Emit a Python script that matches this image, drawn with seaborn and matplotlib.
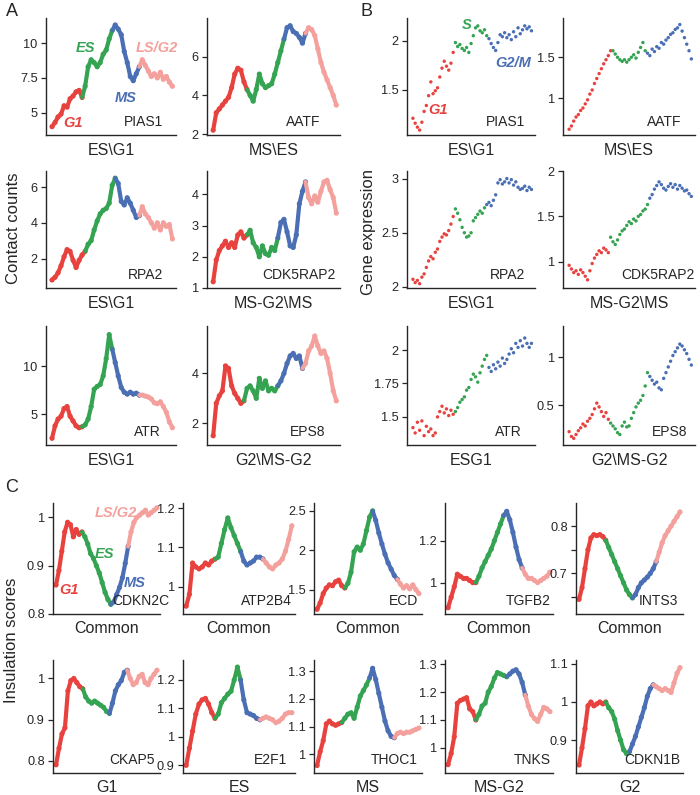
"""
Cell-cycle profiles of contact counts (A), gene expression (B) and
insulation scores (C) for selected genes, coloured by phase.
Saves out.png (700x795).
"""

import numpy as np
import pandas as pd
import matplotlib
matplotlib.use("Agg")
import matplotlib.pyplot as plt
import seaborn as sns

# ---- phase colours ----
PHASES_4 = ["G1", "ES", "MS", "LS/G2"]
PHASES_3 = ["G1", "S", "G2/M"]
RED, GREEN, BLUE, PINK = "#e8423f", "#34a352", "#4a6fb5", "#f4a19d"
COLORS_4 = {"G1": RED, "ES": GREEN, "MS": BLUE, "LS/G2": PINK}
COLORS_3 = {"G1": RED, "S": GREEN, "G2/M": BLUE}

# ---- A: contact counts (values along the cell-cycle trajectory) ----
pias1_contacts = [4.0, 4.3, 4.7, 4.9, 5.5, 5.4, 6.0, 6.2, 6.5, 6.6, 6.1,
                  6.9, 8.3, 8.8, 8.6, 8.3, 8.6, 9.2, 9.5, 10.3, 10.9,
                  11.3, 11.0, 10.6, 9.4, 8.6, 7.6, 7.3, 7.8, 8.3,
                  8.8, 8.4, 8.0, 7.6, 7.8, 7.5, 7.9, 7.4, 7.6, 7.2, 6.9]
pias1_contacts_n = [11, 10, 9, 11]
aatf_contacts = [2.2, 3.1, 3.3, 3.5, 3.7, 3.9, 4.4, 5.1, 5.4, 5.3, 4.7, 4.3,
                 4.0, 3.7, 4.3, 5.1, 4.6, 4.4, 4.5, 4.6, 5.1, 5.7, 6.3, 6.9,
                 7.5, 7.6, 7.3, 7.2, 7.0, 6.7, 7.2,
                 7.5, 7.4, 7.1, 6.4, 5.7, 5.2, 4.8, 4.4, 4.0, 3.5]
aatf_contacts_n = [12, 12, 7, 10]
rpa2_contacts = [0.8, 0.95, 1.2, 1.6, 2.1, 2.5, 2.4, 1.9, 1.5, 1.9, 2.2, 2.4,
                 2.8, 3.0, 3.6, 4.1, 4.5, 4.7, 4.8, 5.1, 6.1, 6.5,
                 6.2, 5.2, 5.0, 5.4, 5.1, 4.7, 4.3, 4.4,
                 4.9, 4.5, 4.3, 4.0, 3.7, 4.0, 3.6, 4.0, 3.8, 3.9, 3.1]
rpa2_contacts_n = [12, 10, 8, 11]
cdk5rap2_contacts = [1.2, 1.9, 2.2, 2.35, 2.5, 2.3, 2.45, 2.3, 2.7, 2.8, 2.6, 2.7,
                     2.85, 2.45, 2.3, 2.0, 2.35, 2.1, 2.05, 2.3, 2.2, 2.6,
                     3.1, 3.2, 2.8, 2.35, 2.3, 2.7, 3.7, 4.1, 4.4,
                     3.9, 3.7, 3.95, 3.75, 4.1, 4.4, 4.45, 4.15, 3.9, 3.4]
cdk5rap2_contacts_n = [12, 10, 9, 10]
atr_contacts = [2.5, 3.8, 4.5, 4.8, 5.6, 5.8, 4.8, 4.3, 3.8, 3.6, 3.7,
                3.9, 4.5, 5.8, 7.6, 7.9, 8.1, 9.0, 10.8, 13.3, 11.8,
                10.4, 9.0, 7.8, 7.3, 7.1, 7.3, 7.1, 7.2, 7.0,
                7.0, 6.9, 6.8, 6.6, 6.2, 6.1, 6.3, 5.8, 5.2, 4.2, 3.6]
atr_contacts_n = [11, 10, 9, 11]
eps8_contacts = [1.5, 2.8, 3.1, 3.3, 4.3, 4.2, 3.5, 3.2, 3.0, 2.8, 2.9,
                 3.4, 3.5, 3.3, 3.0, 3.8, 3.4, 3.7, 3.3, 3.4, 3.3, 3.5,
                 3.7, 4.0, 4.4, 4.7, 4.8, 4.6, 4.7, 4.2,
                 4.4, 4.9, 5.1, 5.5, 5.1, 4.8, 4.9, 4.6, 4.0, 3.3, 2.9]
eps8_contacts_n = [11, 11, 8, 11]

# ---- B: gene expression (single cells ordered along the cycle) ----
pias1_expr = [1.21, 1.16, 1.12, 1.09, 1.17, 1.28, 1.34, 1.44, 1.58, 1.46, 1.49, 1.52,
              1.63, 1.72, 1.79, 1.74, 1.70, 1.77, 1.88,
              1.98, 1.94, 1.96, 1.92, 1.90, 1.93, 1.88, 1.97, 2.05, 2.13, 2.15, 2.10,
              2.08, 2.11, 2.05,
              2.02, 1.97, 1.93, 1.90, 1.98, 2.06, 2.04, 2.08, 2.03, 2.06, 2.01, 2.09,
              2.04, 2.13, 2.07, 2.11, 2.15, 2.12, 2.14, 2.10]
pias1_expr_n = [19, 15, 20]
aatf_expr = [0.62, 0.66, 0.72, 0.77, 0.80, 0.85, 0.88, 0.93, 0.98, 1.05, 1.10, 1.18,
             1.24, 1.30, 1.36, 1.42, 1.47, 1.52, 1.58,
             1.58, 1.54, 1.50, 1.47, 1.45, 1.47, 1.44, 1.47, 1.50, 1.53, 1.49, 1.56,
             1.62, 1.68, 1.58,
             1.55, 1.52, 1.60, 1.57, 1.63, 1.61, 1.68, 1.66, 1.71, 1.74, 1.78, 1.80,
             1.84, 1.86, 1.90, 1.82, 1.74, 1.66, 1.58, 1.48]
aatf_expr_n = [19, 15, 20]
rpa2_expr = [2.07, 2.04, 2.06, 2.03, 2.09, 2.12, 2.18, 2.24, 2.28, 2.26, 2.32, 2.35,
             2.42, 2.46, 2.49, 2.48, 2.52, 2.58, 2.65,
             2.72, 2.68, 2.62, 2.55, 2.50, 2.46, 2.47, 2.50, 2.61, 2.64, 2.67, 2.70,
             2.68, 2.73,
             2.76, 2.78, 2.75, 2.80, 2.85, 2.96, 2.99, 2.95, 2.97, 3.00, 2.96, 2.99,
             2.94, 2.97, 2.92, 2.90, 2.91, 2.93, 2.89, 2.92, 2.90]
rpa2_expr_n = [19, 14, 21]
cdk5rap2_expr = [0.96, 0.92, 0.88, 0.90, 0.86, 0.91, 0.88, 0.84, 0.80, 0.90, 0.98, 1.04,
                 1.08, 1.12, 1.10, 1.15, 1.13, 1.10,
                 1.27, 1.22, 1.19, 1.24, 1.30, 1.34, 1.36, 1.40, 1.44, 1.42, 1.47, 1.45,
                 1.50, 1.52, 1.56, 1.58, 1.63,
                 1.70, 1.74, 1.80, 1.84, 1.88, 1.85, 1.81, 1.79, 1.83, 1.86, 1.82, 1.85,
                 1.80, 1.84, 1.81, 1.78, 1.79, 1.75, 1.72]
cdk5rap2_expr_n = [18, 17, 19]
atr_expr = [1.42, 1.38, 1.46, 1.40, 1.47, 1.36, 1.43, 1.39, 1.41, 1.36, 1.38, 1.50,
            1.54, 1.58, 1.53, 1.56, 1.51, 1.55, 1.52,
            1.54, 1.57, 1.61, 1.63, 1.65, 1.70, 1.72, 1.78, 1.82, 1.80, 1.76, 1.83,
            1.88, 1.93, 1.96,
            1.87, 1.84, 1.89, 1.86, 1.91, 1.88, 1.94, 1.90, 1.93, 1.97, 2.01, 1.98,
            2.05, 2.02, 2.07, 2.03, 2.09, 2.05, 2.02, 2.05]
atr_expr_n = [19, 15, 20]
eps8_expr = [0.22, 0.17, 0.15, 0.19, 0.23, 0.26, 0.30, 0.28, 0.33, 0.36, 0.40, 0.46,
             0.52, 0.48, 0.43, 0.38, 0.42, 0.35,
             0.31, 0.28, 0.25, 0.21, 0.19, 0.28, 0.32, 0.27, 0.28, 0.36, 0.42, 0.48,
             0.52, 0.55, 0.60, 0.70, 0.84,
             0.80, 0.76, 0.72, 0.74, 0.68, 0.66, 0.78, 0.84, 0.90, 0.96, 1.02, 1.06,
             1.10, 1.14, 1.12, 1.08, 1.04, 0.98, 0.92]
eps8_expr_n = [18, 17, 19]

# ---- C: insulation scores ----
cdkn2c_ins = [0.86, 0.89, 0.93, 0.97, 0.99, 0.985, 0.96, 0.975, 0.965, 0.97,
              0.96, 0.945, 0.925, 0.915, 0.90, 0.885, 0.865, 0.845, 0.83, 0.82,
              0.825, 0.84, 0.855, 0.875, 0.905, 0.94,
              0.97, 0.99, 1.0, 1.005, 1.01, 1.015, 1.005, 1.01, 1.015, 1.02]
cdkn2c_ins_n = [10, 10, 6, 10]
atp2b4_ins = [0.95, 0.98, 1.06, 1.05, 1.045, 1.05, 1.06, 1.055, 1.065, 1.07,
              1.075, 1.11, 1.145, 1.175, 1.15, 1.13, 1.11, 1.09,
              1.065, 1.055, 1.06, 1.065, 1.075, 1.075, 1.07,
              1.06, 1.05, 1.045, 1.055, 1.06, 1.07, 1.09, 1.12, 1.155]
atp2b4_ins_n = [10, 8, 7, 9]
ecd_ins = [1.25, 1.33, 1.45, 1.52, 1.56, 1.55, 1.6, 1.62, 1.55, 1.52,
           1.58, 1.72, 1.98, 2.04, 2.0, 2.08, 2.25, 2.42, 2.5,
           2.38, 2.22, 2.08, 1.95, 1.84, 1.76, 1.68, 1.63,
           1.57, 1.52, 1.55, 1.51, 1.56, 1.5, 1.45]
ecd_ins_n = [10, 9, 8, 7]
tgfb2_ins = [0.88, 0.93, 0.98, 1.04, 1.03, 1.02, 1.02, 1.01, 1.0, 1.0,
             1.03, 1.07, 1.1, 1.13, 1.16, 1.2, 1.24, 1.28, 1.32,
             1.34, 1.3, 1.24, 1.17, 1.11, 1.07,
             1.04, 1.02, 1.02, 1.01, 1.0, 1.01, 1.02, 1.03, 1.05]
tgfb2_ins_n = [10, 9, 6, 9]
ints3_ins = [0.645, 0.67, 0.71, 0.75, 0.775, 0.782, 0.78, 0.782, 0.778, 0.77,
             0.755, 0.74, 0.725, 0.71, 0.695, 0.68, 0.665, 0.655, 0.648,
             0.655, 0.67, 0.68, 0.686, 0.692, 0.7, 0.71, 0.725,
             0.745, 0.765, 0.78, 0.79, 0.8, 0.81, 0.82, 0.83]
ints3_ins_n = [10, 9, 8, 8]
ckap5_ins = [0.79, 0.83, 0.865, 0.88, 0.97, 0.995, 1.0, 0.99, 0.98, 0.975,
             0.955, 0.945, 0.94, 0.945, 0.94, 0.935, 0.93, 0.92, 0.915,
             0.94, 0.97, 0.985, 0.995, 1.015, 1.02,
             1.0, 0.985, 0.99, 1.005, 1.01, 0.99, 0.985, 1.0, 1.01, 1.02]
ckap5_ins_n = [10, 9, 6, 10]
e2f1_ins = [0.9, 0.96, 1.02, 1.08, 1.115, 1.13, 1.135, 1.115, 1.085, 1.065,
            1.08, 1.12, 1.135, 1.15, 1.16, 1.2, 1.245, 1.2,
            1.13, 1.085, 1.08, 1.075, 1.065, 1.06,
            1.065, 1.07, 1.065, 1.06, 1.05, 1.055, 1.065, 1.08, 1.085, 1.085]
e2f1_ins_n = [10, 8, 6, 10]
thoc1_ins = [0.96, 1.01, 1.05, 1.11, 1.12, 1.11, 1.105, 1.11, 1.115,
             1.13, 1.145, 1.15, 1.13, 1.17, 1.21, 1.23, 1.25, 1.275,
             1.31, 1.27, 1.22, 1.17, 1.12, 1.085, 1.065, 1.06,
             1.075, 1.08, 1.075, 1.08, 1.08, 1.085, 1.09, 1.095]
thoc1_ins_n = [9, 9, 8, 8]
tnks_ins = [0.94, 0.98, 1.04, 1.16, 1.17, 1.175, 1.18, 1.14, 1.13, 1.1,
            1.12, 1.15, 1.16, 1.2, 1.22, 1.25, 1.27, 1.265, 1.26, 1.255,
            1.265, 1.275, 1.28, 1.265, 1.235, 1.19,
            1.15, 1.12, 1.105, 1.095, 1.12, 1.145, 1.14, 1.13]
tnks_ins_n = [10, 10, 6, 8]
cdkn1b_ins = [0.835, 0.88, 0.93, 0.99, 1.0, 0.99, 0.995, 1.0, 0.995, 1.0,
              0.985, 0.975, 0.955, 0.925, 0.9, 0.875, 0.865, 0.87,
              0.89, 0.91, 0.935, 0.96, 0.985, 1.015, 1.035, 1.045,
              1.04, 1.035, 1.03, 1.035, 1.03, 1.025, 1.05, 1.075, 1.09]
cdkn1b_ins_n = [10, 8, 8, 9]

W, H = 700, 795


def rect(left, top, right, bottom):
    """pixel box -> figure fraction [l, b, w, h]"""
    return [left / W, 1 - bottom / H, (right - left) / W, (bottom - top) / H]


def make_frame(values, counts, names):
    phase = np.repeat(names, counts)[:len(values)].tolist()
    phase += [names[-1]] * (len(values) - len(phase))
    return pd.DataFrame({"pos": np.arange(len(values)), "score": values, "phase": phase})


def draw_track(ax, values, counts):
    """dense profile: thick line per phase + dots at the samples"""
    df = make_frame(values, counts, PHASES_4)
    start = 0
    for name, n in zip(PHASES_4, counts):
        seg = df.iloc[max(start - 1, 0):start + n]
        sns.lineplot(data=seg, x="pos", y="score", color=COLORS_4[name], lw=3.0,
                     ax=ax, sort=False, estimator=None, solid_capstyle="round",
                     solid_joinstyle="round")
        start += n
    sns.scatterplot(data=df, x="pos", y="score", hue="phase", palette=COLORS_4,
                    s=14, linewidth=0, legend=False, ax=ax)
    return len(df)


def draw_dots(ax, values, counts):
    df = make_frame(values, counts, PHASES_3)
    sns.scatterplot(data=df, x="pos", y="score", hue="phase", palette=COLORS_3,
                    s=6, linewidth=0, legend=False, ax=ax)
    return len(df)


def style_axis(ax, n, ylim, yticks, ylabels, xlabel, gene, gene_x, xmarg, labelpad):
    ax.set_xlim(-xmarg[0] * (n - 1), (1 + xmarg[1]) * (n - 1))
    ax.set_ylim(*ylim)
    ax.set_yticks(yticks)
    ax.set_yticklabels(ylabels if ylabels else [f"{t:g}" for t in yticks])
    ax.set_xticks([])
    ax.set_ylabel("")
    ax.set_xlabel(xlabel, fontsize=11.5, labelpad=labelpad)
    ax.tick_params(axis="y", length=3.5, width=0.9, pad=2.5, labelsize=9.2)
    for side in ("left", "bottom"):
        ax.spines[side].set_linewidth(1.0)
    sns.despine(ax=ax)
    ax.text(gene_x, 0.05, gene, transform=ax.transAxes, ha="right", va="bottom",
            fontsize=10, clip_on=False)


sns.set_style("ticks")
plt.rcParams["font.family"] = ["Liberation Sans", "DejaVu Sans"]

fig = plt.figure(figsize=(7, 7.95), dpi=100)

rows_ab = [(18, 135), (171, 288), (326, 445)]

# ---- panel A ----
a_cols = [(46, 176), (207, 340)]
a_panels = [
    (pias1_contacts, pias1_contacts_n, "PIAS1", "ES\\G1", (3.4, 11.8), [5, 7.5, 10], 0.9),
    (aatf_contacts, aatf_contacts_n, "AATF", "MS\\ES", (1.95, 8.0), [2, 4, 6], 0.85),
    (rpa2_contacts, rpa2_contacts_n, "RPA2", "ES\\G1", (0.35, 6.9), [2, 4, 6], 0.9),
    (cdk5rap2_contacts, cdk5rap2_contacts_n, "CDK5RAP2", "MS-G2\\MS", (1.0, 4.75), [1, 2, 3, 4], 0.97),
    (atr_contacts, atr_contacts_n, "ATR", "ES\\G1", (1.8, 14.2), [5, 10], 0.88),
    (eps8_contacts, eps8_contacts_n, "EPS8", "G2\\MS-G2", (1.13, 5.9), [2, 4], 0.89),
]
for i, (vals, cnt, gene, xl, ylim, yt, gx) in enumerate(a_panels):
    (top, bottom), (left, right) = rows_ab[i // 2], a_cols[i % 2]
    ax = fig.add_axes(rect(left, top, right, bottom))
    n = draw_track(ax, vals, cnt)
    style_axis(ax, n, ylim, yt, None, xl, gene, gx, (0.05, 0.03), 6)

# ---- panel B ----
b_cols = [(407, 535), (563, 695)]
b_panels = [
    (pias1_expr, pias1_expr_n, "PIAS1", "ES\\G1", (1.04, 2.23), [1.5, 2], 0.92),
    (aatf_expr, aatf_expr_n, "AATF", "MS\\ES", (0.55, 1.98), [1, 1.5], 0.9),
    (rpa2_expr, rpa2_expr_n, "RPA2", "ES\\G1", (1.99, 3.07), [2, 2.5, 3], 0.92),
    (cdk5rap2_expr, cdk5rap2_expr_n, "CDK5RAP2", "MS-G2\\MS", (0.71, 2.0), [1, 1.5, 2], 1.0),
    (atr_expr, atr_expr_n, "ATR", "ESG1", (1.29, 2.18), [1.5, 1.75, 2], 0.9),
    (eps8_expr, eps8_expr_n, "EPS8", "G2\\MS-G2", (0.08, 1.33), [0.5, 1], 0.94),
]
for i, (vals, cnt, gene, xl, ylim, yt, gx) in enumerate(b_panels):
    (top, bottom), (left, right) = rows_ab[i // 2], b_cols[i % 2]
    ax = fig.add_axes(rect(left, top, right, bottom))
    n = draw_dots(ax, vals, cnt)
    style_axis(ax, n, ylim, yt, None, xl, gene, gx, (0.05, 0.03), 6)

# ---- panel C ----
c_rows = [(503, 614), (660, 773)]
c_cols = [(53, 160), (183, 295), (314, 422), (445, 553), (576, 683)]
c_panels = [
    (cdkn2c_ins, cdkn2c_ins_n, "CDKN2C", "Common", (0.8, 1.03), [0.8, 0.9, 1], None, 1.09),
    (atp2b4_ins, atp2b4_ins_n, "ATP2B4", "Common", (0.93, 1.213), [1, 1.1, 1.2], None, 0.97),
    (ecd_ins, ecd_ins_n, "ECD", "Common", (1.19, 2.6), [1.5, 2, 2.5], None, 0.96),
    (tgfb2_ins, tgfb2_ins_n, "TGFB2", "Common", (0.85, 1.38), [1, 1.2], None, 0.98),
    (ints3_ins, ints3_ins_n, "INTS3", "Common", (0.614, 0.849), [0.65, 0.7, 0.75, 0.8],
     ["", "0.7", "", "0.8"], 0.95),
    (ckap5_ins, ckap5_ins_n, "CKAP5", "G1", (0.77, 1.045), [0.8, 0.9, 1], None, 0.95),
    (e2f1_ins, e2f1_ins_n, "E2F1", "ES", (0.873, 1.27), [0.9, 1, 1.1, 1.2], None, 0.93),
    (thoc1_ins, thoc1_ins_n, "THOC1", "MS", (0.933, 1.34), [1, 1.1, 1.2, 1.3], None, 0.96),
    (tnks_ins, tnks_ins_n, "TNKS", "MS-G2", (0.91, 1.315), [1, 1.1, 1.2, 1.3], None, 0.98),
    (cdkn1b_ins, cdkn1b_ins_n, "CDKN1B", "G2", (0.814, 1.11), [0.9, 1, 1.1], None, 0.98),
]
for i, (vals, cnt, gene, xl, ylim, yt, ylab, gx) in enumerate(c_panels):
    (top, bottom), (left, right) = c_rows[i // 5], c_cols[i % 5]
    ax = fig.add_axes(rect(left, top, right, bottom))
    n = draw_track(ax, vals, cnt)
    style_axis(ax, n, ylim, yt, ylab, xl, gene, gx, (0.03, 0.03), 5)


def fig_text(x, y, s, **kw):
    fig.text(x / W, 1 - y / H, s, ha="center", va="center", **kw)


# panel letters and shared y labels
fig_text(12, 12, "A", fontsize=13)
fig_text(367, 12, "B", fontsize=13)
fig_text(12, 487, "C", fontsize=13)
fig_text(14, 228, "Contact counts", fontsize=12, rotation=90)
fig_text(368, 232, "Gene expression", fontsize=12, rotation=90)
fig_text(12, 640, "Insulation scores", fontsize=12, rotation=90)

# phase annotations
phase_font = dict(fontsize=10.5, fontweight="bold", fontstyle="italic")
fig_text(73, 123, "G1", color=RED, **phase_font)
fig_text(85, 48, "ES", color=GREEN, **phase_font)
fig_text(126, 98, "MS", color=BLUE, **phase_font)
fig_text(157, 48, "LS/G2", color=PINK, **phase_font)
fig_text(438, 110, "G1", color=RED, **phase_font)
fig_text(467, 25, "S", color=GREEN, **phase_font)
fig_text(513, 63, "G2/M", color=BLUE, **phase_font)
fig_text(69, 590, "G1", color=RED, **phase_font)
fig_text(104, 554, "ES", color=GREEN, **phase_font)
fig_text(135, 583, "MS", color=BLUE, **phase_font)
fig_text(116, 513, "LS/G2", color=PINK, **phase_font)

fig.savefig("out.png", dpi=100)
print("saved out.png")
